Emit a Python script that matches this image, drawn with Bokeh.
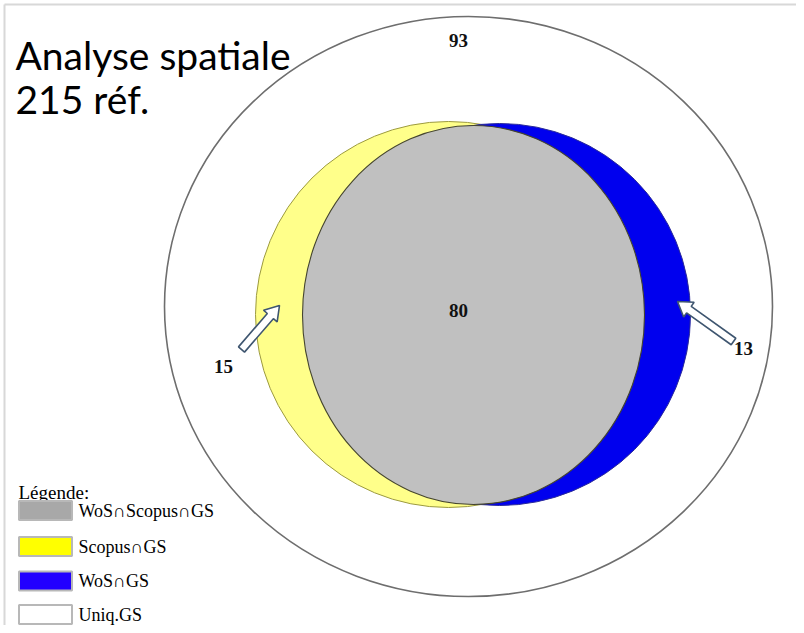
import numpy as np
from bokeh.plotting import figure
from bokeh.models import Range1d
from bokeh.core.properties import value
from bokeh.embed import file_html
from bokeh.resources import INLINE

# ---- data ----
title_lines = ["Analyse spatiale", "215 réf."]
set_counts = [93, 80, 15, 13]  # Uniq.GS, WoS∩Scopus∩GS, Scopus∩GS, WoS∩GS
legend_title = "Légende:"
legend_labels = ["WoS∩Scopus∩GS", "Scopus∩GS", "WoS∩GS", "Uniq.GS"]
legend_colors = ["#a8a8a8", "#ffff00", "#2200ff", "#ffffff"]

# ---- figure: data coords == picture pixel coords ----
W, H = 796, 625
p = figure(width=W, height=H, output_backend="svg", toolbar_location=None,
           x_range=Range1d(0, W), y_range=Range1d(H, 0),
           min_border=0)
p.axis.visible = False
p.grid.visible = False
p.outline_line_color = None
p.background_fill_color = "white"

# light frame (top/left)
p.segment(x0=[4, 4], y0=[4, 4], x1=[796, 4], y1=[4, 625], line_color="#d8d8d8", line_width=2)

# outer circle (Uniq.GS)
p.ellipse(x=[468], y=[306], width=[608], height=[580], fill_color="white",
          line_color="#6e6e6e", line_width=1.6)

# yellow circle (Scopus∩GS)
p.ellipse(x=[448], y=[314], width=[386], height=[386], fill_color="#ffff8a",
          line_color="#9c9a40", line_width=1)
# blue circle (WoS∩GS)
p.ellipse(x=[499], y=[314], width=[382], height=[382], fill_color="#0000ee",
          line_color="#2a2a99", line_width=1)
# gray ellipse (WoS∩Scopus∩GS)
p.ellipse(x=[473], y=[314.5], width=[342], height=[379], fill_color="#c0c0c0",
          line_color="#45452f", line_width=1.1)


def block_arrow(tail, tip, sw=4.0, hw=9.0, hl=14.0):
    t = np.array(tail, float)
    h = np.array(tip, float)
    u = (h - t) / np.linalg.norm(h - t)
    n = np.array([-u[1], u[0]])
    neck = h - u * hl
    pts = [t + n * sw, neck + n * sw, neck + n * hw, h, neck - n * hw, neck - n * sw, t - n * sw]
    return [q[0] for q in pts], [q[1] for q in pts]


ax1, ay1 = block_arrow((241, 349), (279, 305))
ax2, ay2 = block_arrow((733, 341), (677, 301))
p.patches(xs=[ax1, ax2], ys=[ay1, ay2], fill_color="white", line_color="#3f5670", line_width=1.6)

# count labels
p.text(x=[458, 458, 223, 743], y=[40, 310, 366, 348], text=[str(v) for v in set_counts],
       text_font=value("Liberation Serif"), text_font_style="bold", text_font_size="19px",
       text_align="center", text_baseline="middle", text_color="#111111")

# title
p.text(x=[15, 15], y=[54, 98], text=title_lines, text_font=value("Lato"),
       text_font_size="39px", text_align="left", text_baseline="alphabetic", text_color="black")

# legend
p.text(x=[18], y=[492], text=[legend_title], text_font=value("Liberation Serif"),
       text_font_size="19px", text_align="left", text_baseline="alphabetic", text_color="black")
ly = [510, 546, 580.5, 614]
p.rect(x=[45] * 4, y=ly, width=[53] * 4, height=[19] * 4, fill_color=legend_colors,
       line_color="#b8b8b8", line_width=2)
p.text(x=[78] * 4, y=ly, text=legend_labels, text_font=value("Liberation Serif"),
       text_font_size="18px", text_align="left", text_baseline="middle", text_color="black")

open("out.html", "w").write(file_html(p, INLINE))
